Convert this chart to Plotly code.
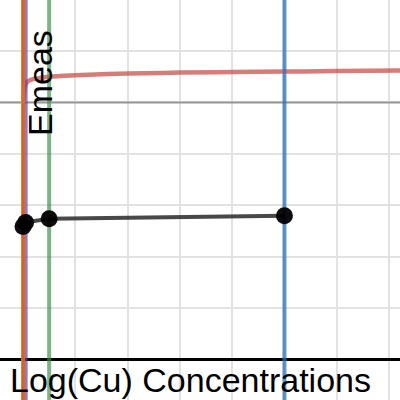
import plotly.graph_objects as go

# vertical marker lines (x positions)
orange_x = 0.0
purple_x = 0.05
green_x = 0.5
blue_x = 5.0

# red curve Emeas vs log(Cu)
curve_x = [0.005, 0.02, 0.04, 0.08, 0.15, 0.3, 0.5, 1.0, 1.5, 2.0, 3.0, 4.0, 5.0, 6.0, 7.3]
curve_y = [5.05, 5.22, 5.32, 5.40, 5.44, 5.47, 5.50, 5.53, 5.55, 5.56, 5.58, 5.59, 5.60, 5.61, 5.62]

# measured points
pts_x = [0.0, 0.05, 0.5, 5.0]
pts_y = [2.59, 2.67, 2.74, 2.80]

X_RANGE = [-0.44, 7.21]
Y_RANGE = [-0.78, 6.99]

fig = go.Figure()

# major grid line at y = 5
fig.add_trace(go.Scatter(x=X_RANGE, y=[5, 5], mode='lines',
                         line=dict(color='#969696', width=2), hoverinfo='skip'))

fig.add_trace(go.Scatter(x=curve_x, y=curve_y, mode='lines',
                         line=dict(color='rgba(199,68,64,0.7)', width=4.5, shape='spline')))

for xv, col in [(purple_x, 'rgba(96,66,166,0.7)'), (orange_x, 'rgba(235,110,35,0.9)'),
                (green_x, 'rgba(56,140,70,0.65)'), (blue_x, 'rgba(45,112,179,0.75)')]:
    fig.add_trace(go.Scatter(x=[xv, xv], y=[Y_RANGE[0] - 1, Y_RANGE[1] + 1], mode='lines',
                             line=dict(color=col, width=4)))

fig.add_trace(go.Scatter(x=pts_x, y=pts_y, mode='lines',
                         line=dict(color='rgba(40,40,40,0.85)', width=4)))
fig.add_trace(go.Scatter(x=pts_x, y=pts_y, mode='markers',
                         marker=dict(color='black', size=17, opacity=0.95)))

fig.update_layout(
    width=400, height=400,
    margin=dict(l=0, r=0, t=0, b=0),
    paper_bgcolor='white', plot_bgcolor='white',
    showlegend=False,
    font=dict(family='Liberation Sans, Arial, sans-serif', color='black'),
    xaxis=dict(range=X_RANGE, dtick=1, showticklabels=False, ticks='',
               gridcolor='#e2e2e2', gridwidth=2,
               zeroline=True, zerolinecolor='black', zerolinewidth=3),
    yaxis=dict(range=Y_RANGE, dtick=1, showticklabels=False, ticks='',
               gridcolor='#e2e2e2', gridwidth=2,
               zeroline=True, zerolinecolor='black', zerolinewidth=3),
    annotations=[
        dict(text='Log(Cu) Concentrations', xref='paper', yref='paper',
             x=190 / 400, y=1 - 380 / 400, xanchor='center', yanchor='middle',
             showarrow=False, font=dict(size=34)),
        dict(text='Emeas', xref='paper', yref='paper', textangle=-90,
             x=40 / 400, y=1 - 83 / 400, xanchor='center', yanchor='middle',
             showarrow=False, font=dict(size=34)),
    ],
)

# drop the browser's default body margin so the chart fills the window
fig.write_html("out.html", config={'displayModeBar': False},
               post_script="document.body.style.margin='0';")
